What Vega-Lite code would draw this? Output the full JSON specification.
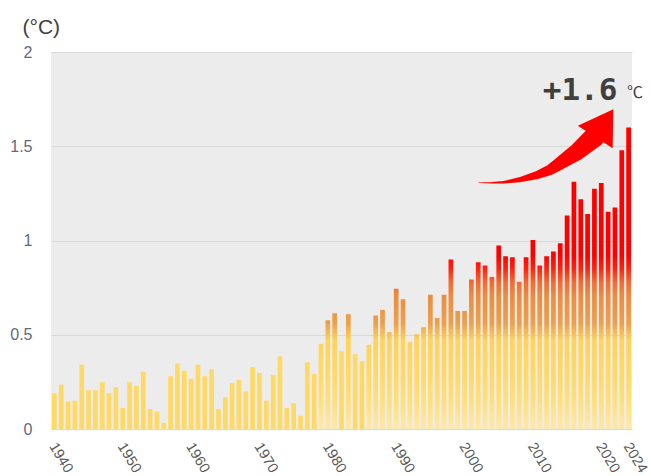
{
  "$schema": "https://vega.github.io/schema/vega-lite/v6.json",
  "width": 581,
  "height": 377,
  "autosize": {"type": "none"},
  "padding": {"left": 51, "top": 52, "right": 19, "bottom": 47},
  "background": "white",
  "config": {
    "view": {"fill": "#ECECEC", "stroke": null},
    "font": "Liberation Sans"
  },
  "datasets": {
    "temps": [
      {"year": 1940, "anomaly": 0.19}, {"year": 1941, "anomaly": 0.236}, {"year": 1942, "anomaly": 0.144},
      {"year": 1943, "anomaly": 0.15}, {"year": 1944, "anomaly": 0.341}, {"year": 1945, "anomaly": 0.206},
      {"year": 1946, "anomaly": 0.206}, {"year": 1947, "anomaly": 0.248}, {"year": 1948, "anomaly": 0.19},
      {"year": 1949, "anomaly": 0.223}, {"year": 1950, "anomaly": 0.112}, {"year": 1951, "anomaly": 0.248},
      {"year": 1952, "anomaly": 0.23}, {"year": 1953, "anomaly": 0.304}, {"year": 1954, "anomaly": 0.106},
      {"year": 1955, "anomaly": 0.093}, {"year": 1956, "anomaly": 0.033}, {"year": 1957, "anomaly": 0.28},
      {"year": 1958, "anomaly": 0.347}, {"year": 1959, "anomaly": 0.31}, {"year": 1960, "anomaly": 0.267},
      {"year": 1961, "anomaly": 0.341}, {"year": 1962, "anomaly": 0.28}, {"year": 1963, "anomaly": 0.317},
      {"year": 1964, "anomaly": 0.106}, {"year": 1965, "anomaly": 0.169}, {"year": 1966, "anomaly": 0.243},
      {"year": 1967, "anomaly": 0.26}, {"year": 1968, "anomaly": 0.199}, {"year": 1969, "anomaly": 0.329},
      {"year": 1970, "anomaly": 0.297}, {"year": 1971, "anomaly": 0.15}, {"year": 1972, "anomaly": 0.287},
      {"year": 1973, "anomaly": 0.385}, {"year": 1974, "anomaly": 0.112}, {"year": 1975, "anomaly": 0.137},
      {"year": 1976, "anomaly": 0.07}, {"year": 1977, "anomaly": 0.354}, {"year": 1978, "anomaly": 0.292},
      {"year": 1979, "anomaly": 0.452}, {"year": 1980, "anomaly": 0.577}, {"year": 1981, "anomaly": 0.614},
      {"year": 1982, "anomaly": 0.413}, {"year": 1983, "anomaly": 0.609}, {"year": 1984, "anomaly": 0.397},
      {"year": 1985, "anomaly": 0.36}, {"year": 1986, "anomaly": 0.447}, {"year": 1987, "anomaly": 0.602},
      {"year": 1988, "anomaly": 0.632}, {"year": 1989, "anomaly": 0.514}, {"year": 1990, "anomaly": 0.744},
      {"year": 1991, "anomaly": 0.688}, {"year": 1992, "anomaly": 0.461}, {"year": 1993, "anomaly": 0.503},
      {"year": 1994, "anomaly": 0.54}, {"year": 1995, "anomaly": 0.712}, {"year": 1996, "anomaly": 0.589},
      {"year": 1997, "anomaly": 0.712}, {"year": 1998, "anomaly": 0.899}, {"year": 1999, "anomaly": 0.626},
      {"year": 2000, "anomaly": 0.626}, {"year": 2001, "anomaly": 0.793}, {"year": 2002, "anomaly": 0.885},
      {"year": 2003, "anomaly": 0.867}, {"year": 2004, "anomaly": 0.806}, {"year": 2005, "anomaly": 0.973},
      {"year": 2006, "anomaly": 0.916}, {"year": 2007, "anomaly": 0.911}, {"year": 2008, "anomaly": 0.781},
      {"year": 2009, "anomaly": 0.911}, {"year": 2010, "anomaly": 1.003}, {"year": 2011, "anomaly": 0.867},
      {"year": 2012, "anomaly": 0.916}, {"year": 2013, "anomaly": 0.941}, {"year": 2014, "anomaly": 0.985},
      {"year": 2015, "anomaly": 1.133}, {"year": 2016, "anomaly": 1.312}, {"year": 2017, "anomaly": 1.219},
      {"year": 2018, "anomaly": 1.14}, {"year": 2019, "anomaly": 1.274}, {"year": 2020, "anomaly": 1.305},
      {"year": 2021, "anomaly": 1.152}, {"year": 2022, "anomaly": 1.175}, {"year": 2023, "anomaly": 1.479},
      {"year": 2024, "anomaly": 1.6}
    ],
    "arrow": [
      {"i": 0, "yr": 2002.06, "val": 1.306, "thick": 0.5},
      {"i": 1, "yr": 2004.0, "val": 1.307, "thick": 1.5},
      {"i": 2, "yr": 2005.72, "val": 1.309, "thick": 2.5},
      {"i": 3, "yr": 2008.0, "val": 1.322, "thick": 5},
      {"i": 4, "yr": 2010.6, "val": 1.347, "thick": 8},
      {"i": 5, "yr": 2012.5, "val": 1.375, "thick": 10.5},
      {"i": 6, "yr": 2014.0, "val": 1.41, "thick": 13},
      {"i": 7, "yr": 2016.46, "val": 1.47, "thick": 17},
      {"i": 8, "yr": 2019.0, "val": 1.55, "thick": 21}
    ],
    "heads": [
      {"yr": 2020.45, "val": 1.623}
    ],
    "notes": [
      {"yr": 2016.9, "val": 1.748, "label": "+1.6"}
    ],
    "units": [
      {"yr": 2023.77, "val": 1.756, "label": "℃"}
    ]
  },
  "layer": [
    {
      "data": {"name": "temps"},
      "mark": {"type": "bar"},
      "encoding": {
        "x": {
          "field": "year",
          "type": "ordinal",
          "scale": {"paddingInner": 0.31, "paddingOuter": 0.15},
          "axis": {
            "title": null,
            "values": [1940, 1950, 1960, 1970, 1980, 1990, 2000, 2010, 2020, 2024],
            "labelAngle": 59,
            "labelAlign": "left",
            "labelBaseline": "top",
            "labelOffset": 4,
            "labelPadding": 11,
            "labelFontSize": 14.5,
            "labelColor": "#595959",
            "ticks": false,
            "grid": false,
            "domain": true,
            "domainColor": "#D9D9D9",
            "domainWidth": 1
          }
        },
        "y": {
          "field": "anomaly",
          "type": "quantitative",
          "scale": {"domain": [0, 2], "nice": false},
          "axis": {
            "title": "(°C)",
            "titleAngle": 0,
            "titleAlign": "left",
            "titleBaseline": "alphabetic",
            "titleX": -29,
            "titleY": -19,
            "titleFontSize": 21,
            "titleFontWeight": "normal",
            "titleColor": "#404040",
            "values": [0, 0.5, 1, 1.5, 2],
            "format": "~g",
            "labelFontSize": 16,
            "labelColor": "#5E6B7D",
            "labelPadding": 19,
            "ticks": false,
            "domain": false,
            "grid": true,
            "gridColor": "#D9D9D9",
            "gridWidth": 1
          }
        },
        "fill": {
          "value": {
            "expr": "datum.anomaly < 0.42 ? '#FFD966' : {gradient: 'linear', x1: 0, y1: 1, x2: 0, y2: 1 - 2 / datum.anomaly, stops: [{offset: 0, color: '#FFE9A6'}, {offset: 0.075, color: '#FFDF7C'}, {offset: 0.15, color: '#FFD966'}, {offset: 0.235, color: '#FFD35C'}, {offset: 0.28, color: '#EDA04C'}, {offset: 0.35, color: '#EB8E42'}, {offset: 0.39, color: '#F26A32'}, {offset: 0.425, color: '#FF2410'}, {offset: 0.46, color: '#FF0000'}, {offset: 1, color: '#FF0000'}]}"
          }
        }
      }
    },
    {
      "data": {"name": "arrow"},
      "mark": {"type": "trail", "fill": "#FF0000", "color": "#FF0000"},
      "encoding": {
        "x": {"field": "yr", "type": "quantitative", "scale": {"domain": [1939.5, 2024.5], "nice": false, "zero": false}, "axis": null},
        "y": {"field": "val", "type": "quantitative"},
        "order": {"field": "i"},
        "size": {"field": "thick", "type": "quantitative", "scale": {"domain": [0, 41.5], "range": [0, 41.5], "zero": true}, "legend": null}
      }
    },
    {
      "data": {"name": "heads"},
      "mark": {"type": "point", "shape": "M-1,0.8L0,-0.8L1,0.8Z", "size": 1722, "angle": 33, "filled": true, "color": "#FF0000", "opacity": 1, "strokeWidth": 0},
      "encoding": {
        "x": {"field": "yr", "type": "quantitative", "scale": {"domain": [1939.5, 2024.5], "nice": false, "zero": false}, "axis": null},
        "y": {"field": "val", "type": "quantitative"}
      }
    },
    {
      "data": {"name": "notes"},
      "mark": {"type": "text", "font": "DejaVu Sans Mono", "fontWeight": "bold", "fontSize": 31, "color": "#3F3F3F", "align": "center", "baseline": "alphabetic"},
      "encoding": {
        "x": {"field": "yr", "type": "quantitative", "scale": {"domain": [1939.5, 2024.5], "nice": false, "zero": false}, "axis": null},
        "y": {"field": "val", "type": "quantitative"},
        "text": {"field": "label"}
      }
    },
    {
      "data": {"name": "units"},
      "mark": {"type": "text", "font": "Noto Sans CJK JP", "fontSize": 16, "color": "#404040", "align": "left", "baseline": "alphabetic"},
      "encoding": {
        "x": {"field": "yr", "type": "quantitative", "scale": {"domain": [1939.5, 2024.5], "nice": false, "zero": false}, "axis": null},
        "y": {"field": "val", "type": "quantitative"},
        "text": {"field": "label"}
      }
    }
  ],
  "resolve": {"scale": {"x": "independent"}}
}
